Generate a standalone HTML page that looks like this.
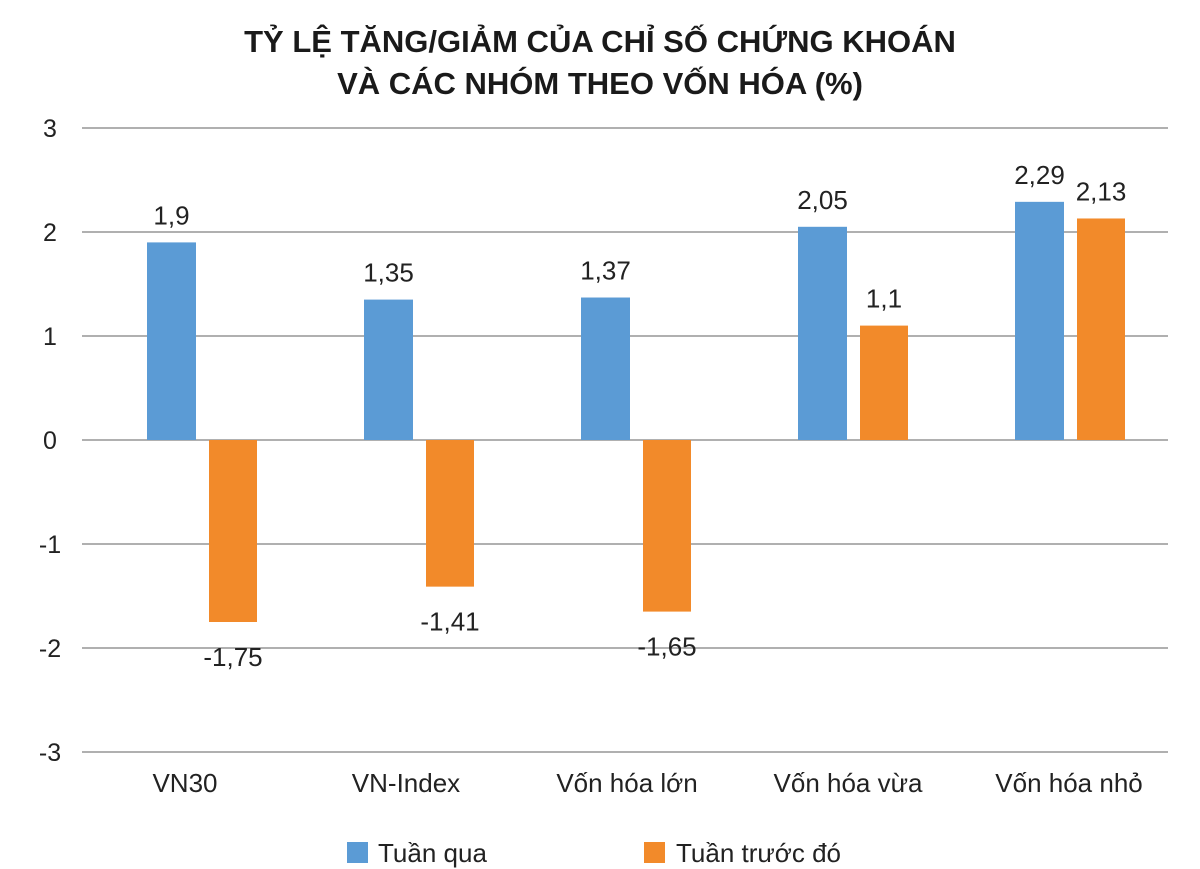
<!DOCTYPE html>
<html><head><meta charset="utf-8"><style>
body{margin:0;background:#fff;}
svg{display:block;font-family:"Liberation Sans","DejaVu Sans",sans-serif;}
</style></head><body>
<svg id="chart" width="1200" height="869" viewBox="0 0 1200 869">
<text x="600" y="52" text-anchor="middle" font-size="31" font-weight="bold" fill="#1a1a1a">TỶ LỆ TĂNG/GIẢM CỦA CHỈ SỐ CHỨNG KHOÁN</text>
<text x="600" y="94" text-anchor="middle" font-size="31" font-weight="bold" fill="#1a1a1a">VÀ CÁC NHÓM THEO VỐN HÓA (%)</text>
<g id="grid"></g><g id="bars"></g><g id="labels"></g>
<rect x="347" y="842" width="21" height="21" fill="#5b9bd5"/>
<text x="378" y="862" font-size="26" fill="#222">Tuần qua</text>
<rect x="644" y="842" width="21" height="21" fill="#f28a2a"/>
<text x="676" y="862" font-size="26" fill="#222">Tuần trước đó</text>
</svg>
<script>
const categories=["VN30","VN-Index","Vốn hóa lớn","Vốn hóa vừa","Vốn hóa nhỏ"];
const tuanQua=[1.9,1.35,1.37,2.05,2.29];
const tuanTruoc=[-1.75,-1.41,-1.65,1.1,2.13];
const tickValues=[3,2,1,0,-1,-2,-3];
const NS="http://www.w3.org/2000/svg";
const y=v=>440-v*104;
const x=i=>147+i*217;
const cx=i=>185+i*221;
function mk(tag,attrs,parent,txt){const e=document.createElementNS(NS,tag);for(const k in attrs)e.setAttribute(k,attrs[k]);if(txt!==undefined)e.textContent=txt;document.getElementById(parent).appendChild(e);return e;}
const fmt=v=>String(v).replace('.',',');
tickValues.forEach(t=>{
 const l=mk('line',{x1:82,x2:1168,y1:y(t),y2:y(t),stroke:'#b0b0b0','stroke-width':2},'grid');
 
 
 const tx=mk('text',{x:50,y:y(t)+9,'text-anchor':'middle','font-size':25,fill:'#222'},'grid',String(t));
 
 
});
categories.forEach((c,i)=>{
 const t=mk('text',{x:cx(i),y:792,'text-anchor':'middle','font-size':26,fill:'#222'},'labels',c);
 
 
 [[tuanQua[i],0,'#5b9bd5',49],[tuanTruoc[i],62,'#f28a2a',48]].forEach(([v,off,col,w],s)=>{
  const top=Math.min(y(v),y(0)),h=Math.abs(y(v)-y(0));
  const r=mk('rect',{x:x(i)+off,y:top,width:w,height:h,fill:col},'bars');
  
  
  const ly=v>=0?y(v)-18:y(v)+44;
  const lt=mk('text',{x:x(i)+off+w/2,y:ly,'text-anchor':'middle','font-size':26,fill:'#222'},'labels',fmt(v));
  
  
 });
});
</script>
</body></html>
